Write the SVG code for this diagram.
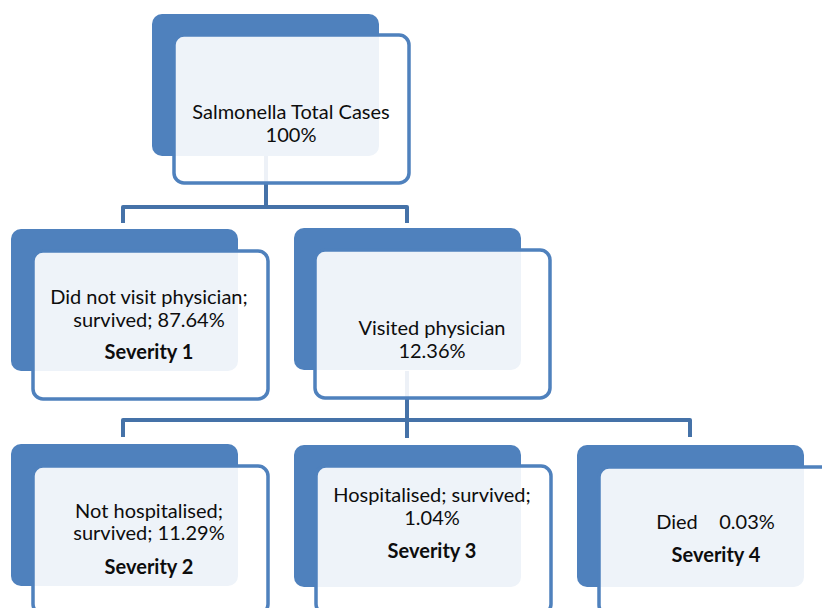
<svg xmlns="http://www.w3.org/2000/svg" width="822" height="608" viewBox="0 0 822 608">
<style>
.back{fill:#4F81BD;}
.front{fill:#FFFFFF;fill-opacity:0.9;stroke:#4F81BD;stroke-width:3.5;}
.conn{fill:none;stroke:#4572A8;stroke-width:4;stroke-linejoin:round;}
.t{font-family:Lato,"Liberation Sans",sans-serif;font-size:20px;fill:#0d0d0d;text-anchor:middle;}
.b{font-weight:bold;}
</style>
<rect width="822" height="608" fill="#FFFFFF"/>
<g id="connectors">
<path class="conn" d="M266,156 V207 M123,223 V207 H407 V223"/>
<path class="conn" d="M407,371 V438 M123,437 V420 H690 V437"/>
</g>
<g id="node-total">
<rect class="back" x="152" y="14" width="227" height="142" rx="10"/>
<rect class="front" x="174" y="35" width="235" height="148" rx="10"/>
<text class="t" x="291" y="119">Salmonella Total Cases</text>
<text class="t" x="291" y="142">100%</text>
</g>
<g id="node-not-visit">
<rect class="back" x="11" y="229" width="227" height="142" rx="10"/>
<rect class="front" x="33" y="251" width="235" height="148" rx="10"/>
<text class="t" x="149" y="304">Did not visit physician;</text>
<text class="t" x="149" y="327">survived; 87.64%</text>
<text class="t b" x="149" y="359">Severity 1</text>
</g>
<g id="node-visited">
<rect class="back" x="294" y="228" width="227" height="142" rx="10"/>
<rect class="front" x="315" y="250" width="235" height="148" rx="10"/>
<text class="t" x="432" y="335">Visited physician</text>
<text class="t" x="432" y="358">12.36%</text>
</g>
<g id="node-not-hosp">
<rect class="back" x="11" y="444" width="227" height="142" rx="10"/>
<rect class="front" x="33" y="466" width="235" height="148" rx="10"/>
<text class="t" x="149" y="518">Not hospitalised;</text>
<text class="t" x="149" y="540">survived; 11.29%</text>
<text class="t b" x="149" y="574">Severity 2</text>
</g>
<g id="node-hosp">
<rect class="back" x="294" y="445" width="227" height="142" rx="10"/>
<rect class="front" x="316" y="466" width="235" height="148" rx="10"/>
<text class="t" x="432" y="502">Hospitalised; survived;</text>
<text class="t" x="432" y="525">1.04%</text>
<text class="t b" x="432" y="558">Severity 3</text>
</g>
<g id="node-died">
<rect class="back" x="577" y="445" width="227" height="142" rx="10"/>
<rect class="front" x="599" y="467" width="235" height="148" rx="10"/>
<text class="t" x="715" y="529"><tspan x="677">Died</tspan><tspan x="747">0.03%</tspan></text>
<text class="t b" x="716" y="562">Severity 4</text>
</g>
</svg>
